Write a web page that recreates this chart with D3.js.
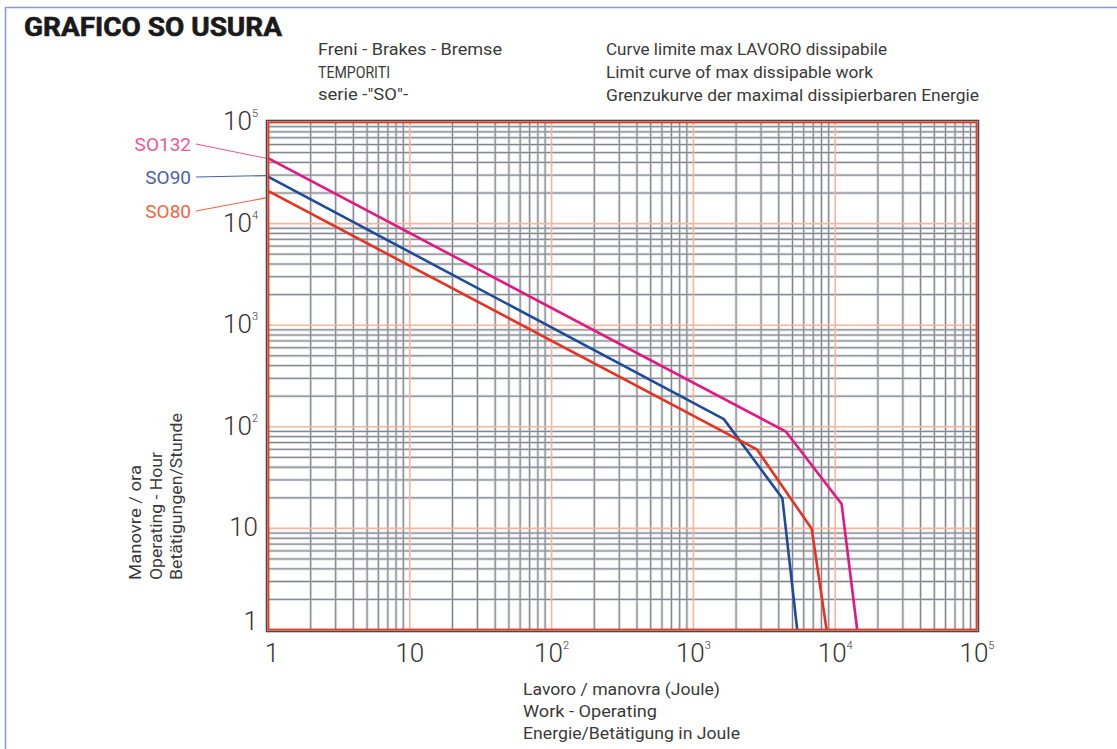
<!DOCTYPE html>
<html>
<head>
<meta charset="utf-8">
<script src="https://cdn.jsdelivr.net/npm/d3@7"></script>
<style>
  body { margin: 0; background: #fff; }
  text { font-family: Roboto, "DejaVu Sans", sans-serif; }
</style>
</head>
<body>
<div id="chart"></div>
<script>
// values
var decades = [1, 10, 100, 1000, 10000, 100000];
var tickBase = ["1", "10", "10", "10", "10", "10"];
var tickSup = ["", "", "2", "3", "4", "5"];

var seriesNames = ["SO132", "SO90", "SO80"];
var so132X = [1, 4500, 11100, 14300];
var so132Y = [44000, 89.5, 17.4, 1];
var so90X = [1, 1640, 4240, 5400];
var so90Y = [29000, 119, 19.8, 1];
var so80X = [1, 2800, 6830, 8700];
var so80Y = [21000, 60, 9.9, 1];

var headLeft = ["Freni - Brakes - Bremse", "TEMPORITI", "serie -\"SO\"-"];
var headRight = ["Curve limite max LAVORO dissipabile", "Limit curve of max dissipable work", "Grenzukurve der maximal dissipierbaren Energie"];
var yTitle = ["Manovre / ora", "Operating - Hour", "Betätigungen/Stunde"];
var xTitle = ["Lavoro / manovra (Joule)", "Work - Operating", "Energie/Betätigung in Joule"];

var width = 1117, height = 749;
var margin = {"top": 122, "left": 268, "bottom": 119, "right": 140};
var w = width - margin.left - margin.right;
var h = height - margin.top - margin.bottom;

var svg = d3.select("#chart").append("svg")
    .attr("width", width)
    .attr("height", height);

// page frame
svg.append("path")
    .attr("d", "M5.5,749 L5.5,7.5 L1117,7.5")
    .attr("fill", "none")
    .attr("stroke", "#8d98cf")
    .attr("stroke-width", 1.6);

svg.append("text")
    .attr("x", 24).attr("y", 36)
    .attr("font-family", "'Liberation Sans', Arial, sans-serif")
    .attr("font-weight", "bold")
    .attr("font-size", 25)
    .attr("fill", "#1a1a1a")
    .attr("stroke", "#1a1a1a").attr("stroke-width", 0.6)
    .attr("textLength", 258)
    .attr("lengthAdjust", "spacingAndGlyphs")
    .text("GRAFICO SO USURA");

var x = d3.scaleLog().domain([1, 1e5]).range([0, w]);
var y = d3.scaleLog().domain([1, 1e5]).range([h, 0]);

var g = svg.append("g")
    .attr("transform", "translate(" + margin.left + ", " + margin.top + ")");

var isDecade = function(v){ return Math.abs(Math.log10(v) - Math.round(Math.log10(v))) < 1e-9; };
var minorX = x.ticks().filter(function(v){ return !isDecade(v); });
var minorY = y.ticks().filter(function(v){ return !isDecade(v); });

// minor grid, soft halo then darker core
[["#d6d8dc", 2.8], ["#7f848b", 1]].forEach(function(s){
  g.selectAll(null).data(minorX).enter().append("line")
      .attr("x1", function(d){ return x(d); }).attr("x2", function(d){ return x(d); })
      .attr("y1", 0).attr("y2", h)
      .attr("stroke", s[0]).attr("stroke-width", s[1]);
  g.selectAll(null).data(minorY).enter().append("line")
      .attr("y1", function(d){ return y(d); }).attr("y2", function(d){ return y(d); })
      .attr("x1", 0).attr("x2", w)
      .attr("stroke", s[0]).attr("stroke-width", s[1]);
});

// decade lines
g.selectAll(null).data(decades).enter().append("line")
    .attr("x1", function(d){ return x(d); }).attr("x2", function(d){ return x(d); })
    .attr("y1", 0).attr("y2", h)
    .attr("stroke", "#f8b49c").attr("stroke-width", 1.6);
g.selectAll(null).data(decades).enter().append("line")
    .attr("y1", function(d){ return y(d); }).attr("y2", function(d){ return y(d); })
    .attr("x1", 0).attr("x2", w)
    .attr("stroke", "#f8b49c").attr("stroke-width", 1.6);

// curves
var series = [
  {name: seriesNames[0], xs: so132X, ys: so132Y, color: "#e5167f", label: "#ec5896"},
  {name: seriesNames[1], xs: so90X, ys: so90Y, color: "#1f4b9c", label: "#4c5fad"},
  {name: seriesNames[2], xs: so80X, ys: so80Y, color: "#e8321f", label: "#f06642"}
];

var line = d3.line()
    .x(function(d){ return x(d[0]); })
    .y(function(d){ return y(d[1]); });

g.selectAll(".curve").data(series).enter().append("path")
    .attr("class", "curve")
    .attr("d", function(s){ return line(d3.zip(s.xs, s.ys)); })
    .attr("fill", "none")
    .attr("stroke", function(s){ return s.color; })
    .attr("stroke-width", 2.6)
    .attr("stroke-linejoin", "round");

// plot frame
g.append("rect")
    .attr("x", -1.5).attr("y", -1.5).attr("width", w + 3).attr("height", h + 3)
    .attr("fill", "none").attr("stroke", "#4a4a4a").attr("stroke-width", 1.6);
g.append("rect")
    .attr("x", 0.5).attr("y", 0.5).attr("width", w - 1).attr("height", h - 1)
    .attr("fill", "none").attr("stroke", "#e63b22").attr("stroke-width", 1.8);

// series labels with leader lines
var labelY = [151, 184, 218];
var leaderY = [0, -1, 7];
series.forEach(function(s, i){
  svg.append("text")
      .attr("x", margin.left - 77).attr("y", labelY[i])
      .attr("text-anchor", "end")
      .attr("font-size", 19)
      .attr("fill", s.label)
      .text(s.name);
  svg.append("line")
      .attr("x1", margin.left - 72).attr("y1", labelY[i] - 7)
      .attr("x2", margin.left - 2).attr("y2", margin.top + y(s.ys[0]) + leaderY[i])
      .attr("stroke", s.label).attr("stroke-width", 1.1);
});

// tick labels
var tickFill = "#333";
decades.forEach(function(d, i){
  var t = svg.append("text")
      .attr("x", margin.left + x(d) + (i === 0 ? 4 : 0))
      .attr("y", margin.top + h + 32)
      .attr("text-anchor", "middle")
      .attr("font-size", 26)
      .attr("font-weight", 300)
      .attr("fill", tickFill);
  t.append("tspan").text(tickBase[i]);
  if (tickSup[i]) {
    t.append("tspan").attr("font-size", 11).attr("dy", -13).text(tickSup[i]);
  }
});
decades.forEach(function(d, i){
  var t = svg.append("text")
      .attr("x", margin.left - 10)
      .attr("y", margin.top + y(d) + (i === 0 ? 0 : 8))
      .attr("text-anchor", "end")
      .attr("font-size", 26)
      .attr("font-weight", 300)
      .attr("fill", tickFill);
  t.append("tspan").text(tickBase[i]);
  if (tickSup[i]) {
    t.append("tspan").attr("font-size", 11).attr("dy", -13).text(tickSup[i]);
  }
});

// header texts
var headLeftLen = [184, 72, 90];
var headRightLen = [281, 267, 373];
headLeft.forEach(function(s, i){
  svg.append("text")
      .attr("x", 318).attr("y", 55 + i * 22.5)
      .attr("font-size", 16).attr("fill", "#3a3a3a")
      .attr("textLength", headLeftLen[i]).attr("lengthAdjust", "spacingAndGlyphs")
      .text(s);
});
headRight.forEach(function(s, i){
  svg.append("text")
      .attr("x", 606).attr("y", 55 + i * 23)
      .attr("font-size", 16).attr("fill", "#3a3a3a")
      .attr("textLength", headRightLen[i]).attr("lengthAdjust", "spacingAndGlyphs")
      .text(s);
});

// axis titles
var yTitleLen = [115, 128, 167];
yTitle.forEach(function(s, i){
  svg.append("text")
      .attr("transform", "translate(" + (141 + i * 20.5) + ",580) rotate(-90)")
      .attr("font-size", 16).attr("fill", "#3a3a3a")
      .attr("textLength", yTitleLen[i]).attr("lengthAdjust", "spacingAndGlyphs")
      .text(s);
});
var xTitleLen = [197, 134, 217];
xTitle.forEach(function(s, i){
  svg.append("text")
      .attr("x", 523).attr("y", 695 + i * 22)
      .attr("font-size", 16).attr("fill", "#3a3a3a")
      .attr("textLength", xTitleLen[i]).attr("lengthAdjust", "spacingAndGlyphs")
      .text(s);
});
</script>
</body>
</html>
